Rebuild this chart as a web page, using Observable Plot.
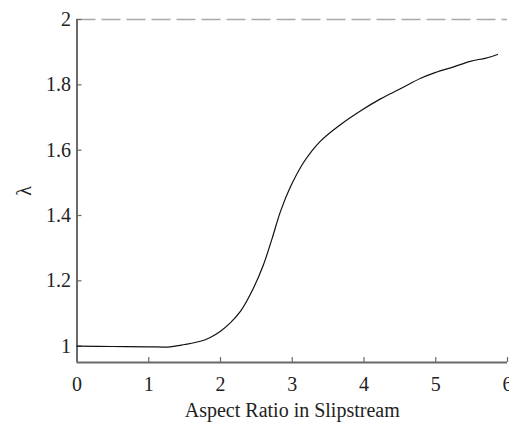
<!DOCTYPE html>
<html>
<head>
<meta charset="utf-8">
<script src="https://cdn.jsdelivr.net/npm/d3@7"></script>
<script src="https://cdn.jsdelivr.net/npm/@observablehq/plot@0.6"></script>
<style>
  html, body { margin: 0; padding: 0; background: #fff; }
  #chart svg { display: block; }
  #chart svg, #chart svg text { font-family: "Liberation Serif", "DejaVu Serif", serif !important; }
</style>
</head>
<body>
<div id="chart"></div>
<script>
const aspectRatio = [0, 0.5, 1.0, 1.3, 1.5, 1.72, 1.85, 2.0, 2.14, 2.28, 2.46, 2.6, 2.72, 2.84, 2.98, 3.16, 3.39, 3.67, 3.95, 4.23, 4.5, 4.79, 5.0, 5.25, 5.48, 5.7, 5.86];
const lambda = [1.0, 0.999, 0.998, 0.998, 1.005, 1.015, 1.026, 1.046, 1.072, 1.107, 1.178, 1.25, 1.33, 1.415, 1.49, 1.563, 1.627, 1.678, 1.72, 1.757, 1.787, 1.820, 1.838, 1.855, 1.872, 1.882, 1.893];
const limitValue = [2];
const xTicks = [0, 1, 2, 3, 4, 5, 6];
const yTicks = [1, 1.2, 1.4, 1.6, 1.8, 2];
const yTickLabels = ["1", "1.2", "1.4", "1.6", "1.8", "2"];
const xDomain = [0, 6];
const yDomain = [0.95, 2];

const data = aspectRatio.map((x, i) => ({x, y: lambda[i]}));
const axisColor = "#6a6a6a";

const plot = Plot.plot({
  width: 509,
  height: 423,
  marginLeft: 76.5,
  marginRight: 2,
  marginTop: 19,
  marginBottom: 61,
  style: {fontSize: "20px", color: "#222", background: "#fff"},
  x: {domain: xDomain},
  y: {domain: yDomain},
  marks: [
    Plot.ruleY(limitValue, {stroke: "#a8a8a8", strokeWidth: 1.5, strokeDasharray: "19,6"}),
    Plot.axisX({ticks: xTicks, tickFormat: (d) => String(d), tickSize: -5, tickPadding: 19, stroke: axisColor, strokeWidth: 1.2,
      label: "Aspect Ratio in Slipstream", labelAnchor: "center", labelArrow: "none", labelOffset: 54, fill: "#222"}),
    Plot.axisY({ticks: yTicks, tickFormat: (d) => yTickLabels[yTicks.indexOf(d)], tickSize: -5, tickPadding: 11,
      stroke: axisColor, strokeWidth: 1.2,
      label: "λ", labelAnchor: "center", labelArrow: "none", labelOffset: 60, fill: "#222"}),
    Plot.ruleX([xDomain[0]], {stroke: axisColor, strokeWidth: 2}),
    Plot.ruleY([yDomain[0]], {stroke: axisColor, strokeWidth: 2}),
    Plot.line(data, {x: "x", y: "y", stroke: "#111", strokeWidth: 1.2, curve: "catmull-rom"})
  ]
});
document.getElementById("chart").appendChild(plot);
</script>
</body>
</html>
